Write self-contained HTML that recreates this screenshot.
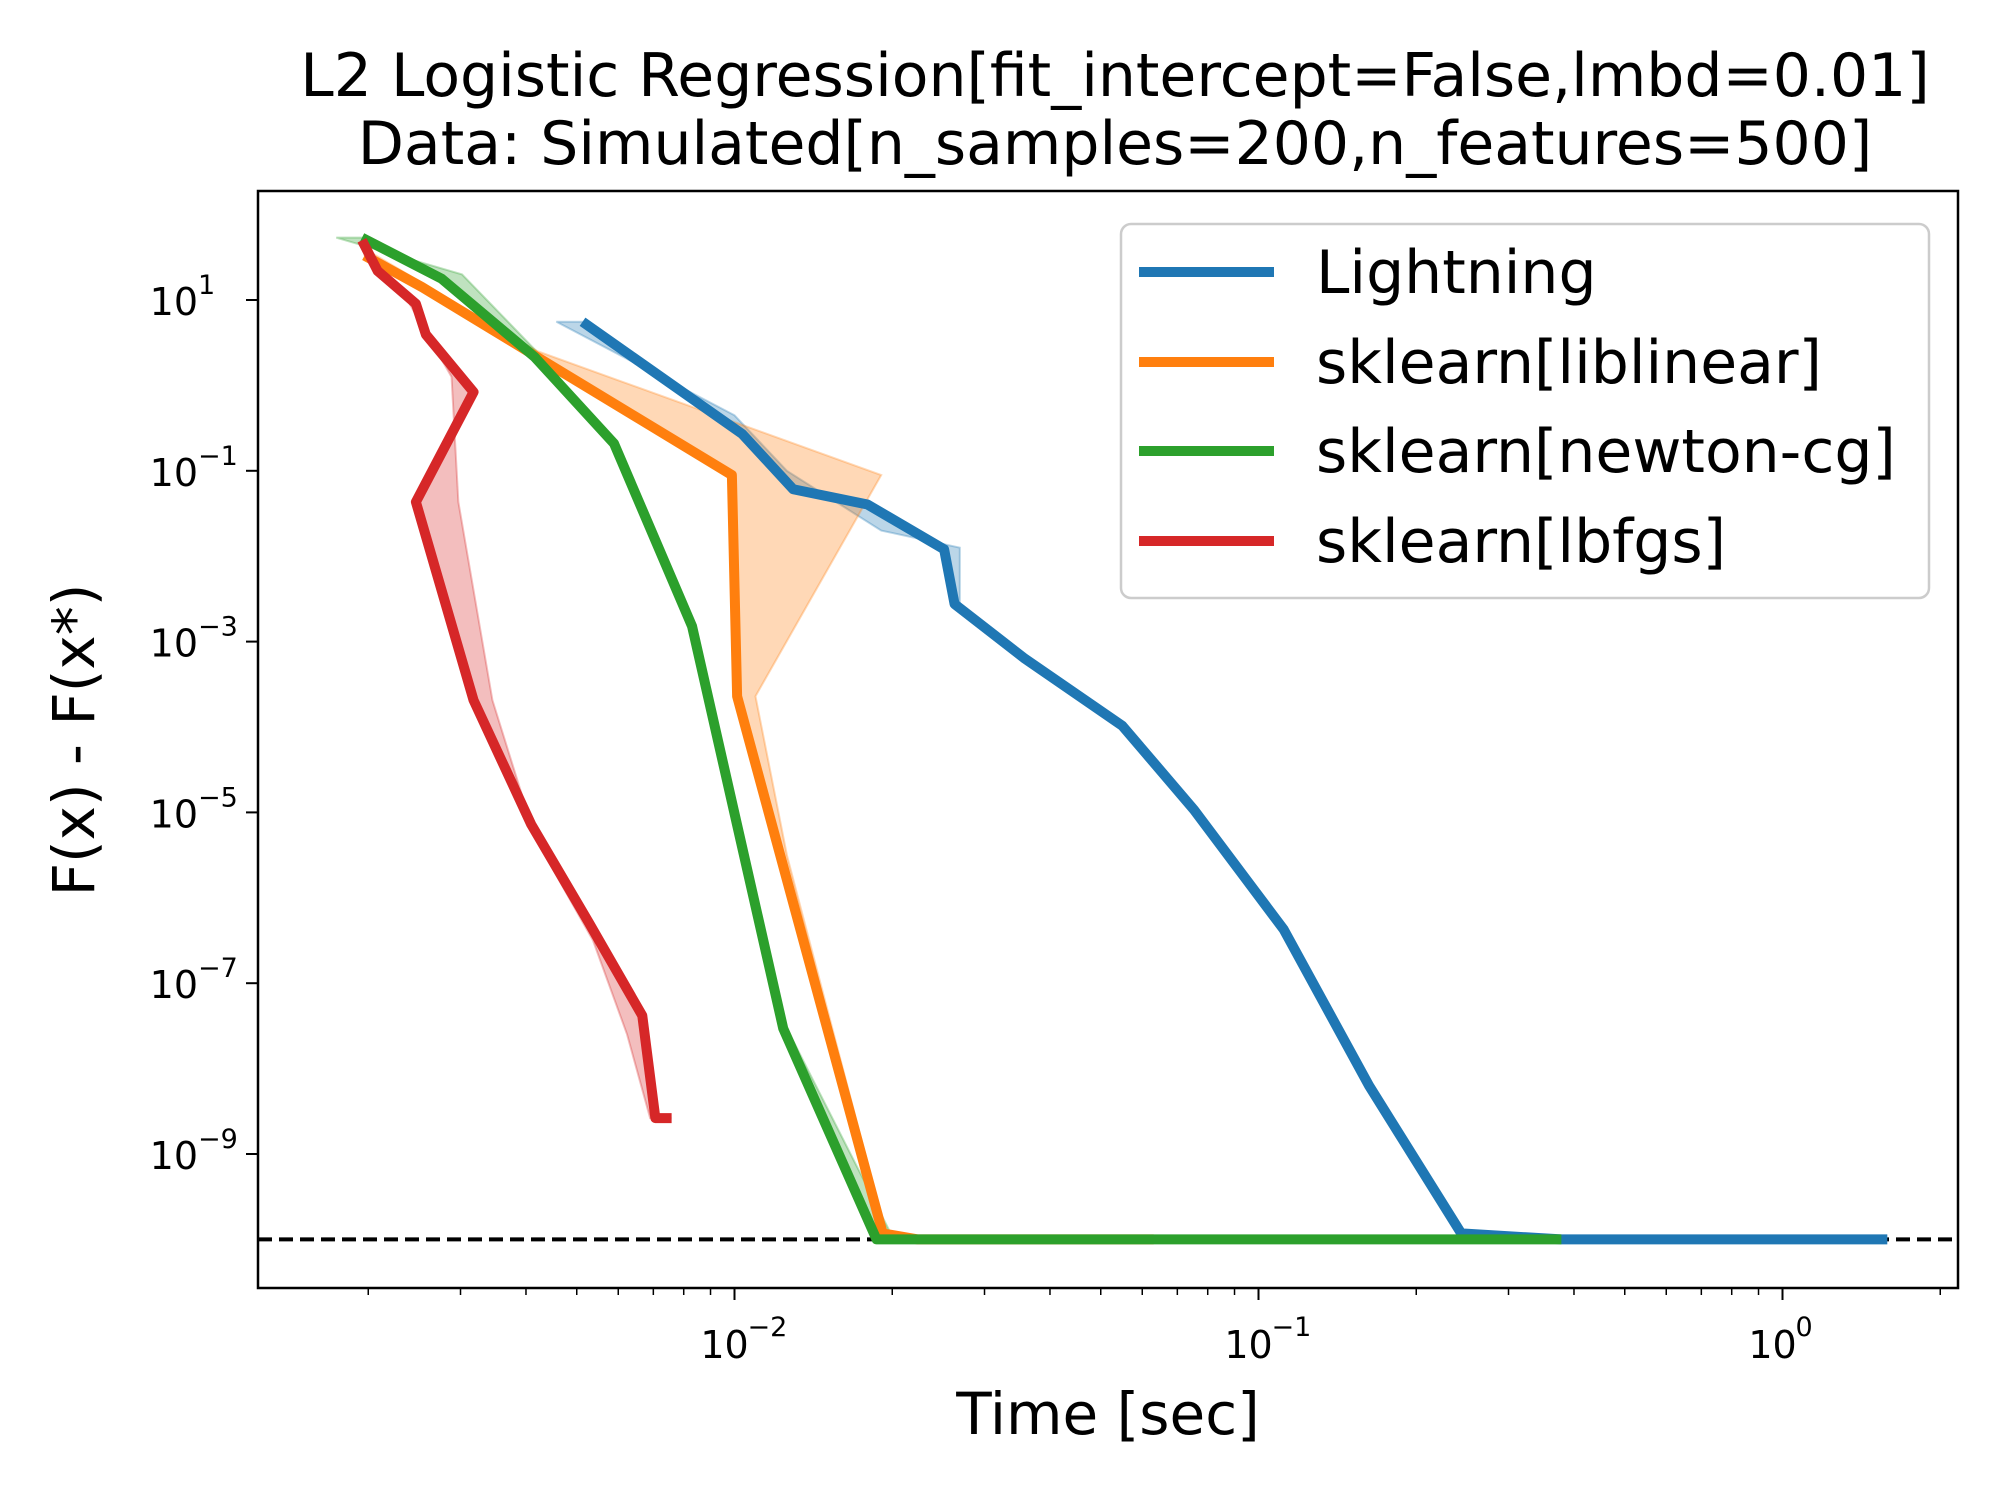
<!DOCTYPE html>
<html><head><meta charset="utf-8"><style>
html,body{margin:0;padding:0;background:#fff;}
svg text{font-family:"DejaVu Sans","Liberation Sans",sans-serif;}
</style></head><body>
<svg id="chart" xmlns="http://www.w3.org/2000/svg" width="2000" height="1500" viewBox="0 0 2000 1500">
<rect width="2000" height="1500" fill="#fff"/>
<text x="1115" y="96" font-size="60" text-anchor="middle">L2 Logistic Regression[fit_intercept=False,lmbd=0.01]</text>
<text x="1115" y="164" font-size="60" text-anchor="middle">Data: Simulated[n_samples=200,n_features=500]</text>
<g id="plot"></g>
<text x="1108" y="1434" font-size="58" text-anchor="middle">Time [sec]</text>
<text transform="translate(94,740) rotate(-90)" font-size="58" text-anchor="middle">F(x) - F(x*)</text>
</svg>
<script>
// data in log10 units (time, suboptimality)
const seriesNames = ["Lightning","sklearn[liblinear]","sklearn[newton-cg]","sklearn[lbfgs]"];
const lightningX = [-2.29,-1.985,-1.888,-1.746,-1.6,-1.58,-1.448,-1.26,-1.123,-0.952,-0.789,-0.613,-0.422,0.2];
const lightningY = [0.745,-0.57,-1.216,-1.395,-1.92,-2.56,-3.19,-3.985,-4.97,-6.37,-8.2,-9.93,-10,-10];
const liblinearX = [-2.706,-2.596,-2.376,-2.005,-1.995,-1.717,-1.65,-1.2];
const liblinearY = [1.52,1.15,0.33,-1.05,-3.64,-9.93,-10,-10];
const newtonX = [-2.711,-2.559,-2.381,-2.23,-2.081,-1.907,-1.729,-0.422];
const newtonY = [1.73,1.25,0.33,-0.68,-2.82,-7.53,-10,-10];
const lbfgsX = [-2.711,-2.681,-2.608,-2.589,-2.498,-2.608,-2.498,-2.388,-2.278,-2.176,-2.151,-2.12];
const lbfgsY = [1.70,1.34,0.955,0.596,-0.078,-1.365,-3.686,-5.14,-6.29,-7.38,-8.58,-8.58];
// band edges (other side of shaded region)
const lightningBandX = [-2.34,-2.0,-1.9,-1.72,-1.57,-1.57];
const lightningBandY = [0.745,-0.35,-1.0,-1.7,-1.9,-2.56];
const liblinearBandX = [-2.706,-2.376,-1.72,-1.96,-1.9,-1.71];
const liblinearBandY = [1.6,0.4,-1.05,-3.64,-5.5,-9.95];
const newtonBandX = [-2.76,-2.52,-2.37,-2.23,-2.08,-1.90,-1.70];
const newtonBandY = [1.73,1.3,0.35,-0.68,-2.82,-7.53,-9.95];
const lbfgsBandX = [-2.62,-2.54,-2.527,-2.462,-2.38,-2.27,-2.205,-2.161];
const lbfgsBandY = [0.955,0.1,-1.365,-3.686,-5.3,-6.5,-7.6,-8.58];
const xTickVals = [-2,-1,0];
const xTickLabels = ["2","1","0"];
const yTickVals = [1,-1,-3,-5,-7,-9];
const yTickLabels = ["1","\u22121","\u22123","\u22125","\u22127","\u22129"];
const optimum = -10;

const L=258,R=1958,T=191,B=1288;
const sx = v => 734.5 + (v+2)*524;
const sy = v => 300 - (v-1)*85.4;
const NS="http://www.w3.org/2000/svg";
const g=document.getElementById('plot');
function mk(tag,attrs,parent){const e=document.createElementNS(NS,tag);for(const k in attrs)e.setAttribute(k,attrs[k]);(parent||g).appendChild(e);return e;}
const colors=["#1f77b4","#ff7f0e","#2ca02c","#d62728"];

function band(xs,ys,bx,by,c,name){
  const pts=xs.map((x,i)=>sx(x)+','+sy(ys[i]));
  const bpts=bx.map((x,i)=>sx(x)+','+sy(by[i])).reverse();
  const p=mk('polygon',{points:pts.concat(bpts).join(' '),fill:c,'fill-opacity':0.3,stroke:c,'stroke-opacity':0.3,'stroke-width':2});
  
  
}
function line(xs,ys,c,name){
  const p=mk('polyline',{points:xs.map((x,i)=>sx(x)+','+sy(ys[i])).join(' '),fill:'none',stroke:c,'stroke-width':10,'stroke-linejoin':'round'});
  
  
}
const dl=mk('line',{x1:L,x2:R,y1:sy(optimum),y2:sy(optimum),stroke:'#000','stroke-width':4,'stroke-dasharray':'14,7'});



band(lightningX.slice(0,6),lightningY.slice(0,6),lightningBandX,lightningBandY,colors[0],'lightning-band');
band(liblinearX.slice(0,6),liblinearY.slice(0,6),liblinearBandX,liblinearBandY,colors[1],'liblinear-band');
band(newtonX.slice(0,7),newtonY.slice(0,7),newtonBandX,newtonBandY,colors[2],'newton-band');
band(lbfgsX.slice(2,12),lbfgsY.slice(2,12),lbfgsBandX,lbfgsBandY,colors[3],'lbfgs-band');
line(lightningX,lightningY,colors[0],'lightning-line');
line(liblinearX,liblinearY,colors[1],'liblinear-line');
line(newtonX,newtonY,colors[2],'newton-cg-line');
line(lbfgsX,lbfgsY,colors[3],'lbfgs-line');

const fr=mk('rect',{x:L,y:T,width:R-L,height:B-T,fill:'none',stroke:'#000','stroke-width':2.5});



xTickVals.forEach((v,i)=>{
  mk('line',{x1:sx(v),x2:sx(v),y1:B,y2:B+12,stroke:'#000','stroke-width':2});
  const t=mk('text',{x:sx(v)-10,y:B+70,'font-size':38,'text-anchor':'middle'});
  
  
  t.textContent='10';
  const s=mk('text',{x:sx(v)+13,y:B+48,'font-size':27});
  s.textContent=(xTickLabels[i]==="0"?"0":"\u2212"+xTickLabels[i]);
});
for(let d=-3;d<=0;d++){for(let k=2;k<=9;k++){const v=d+Math.log10(k);const x=sx(v);if(x<L||x>R)continue;mk('line',{x1:x,x2:x,y1:B,y2:B+7,stroke:'#000','stroke-width':1.5});}}
yTickVals.forEach((v,i)=>{
  mk('line',{x1:L-12,x2:L,y1:sy(v),y2:sy(v),stroke:'#000','stroke-width':2});
  const t=mk('text',{x:L-60,y:sy(v)+15,'font-size':38,'text-anchor':'end'});
  
  
  t.textContent='10';
  const s=mk('text',{x:L-60,y:sy(v)-6,'font-size':27});
  s.textContent=yTickLabels[i];
});

const lg=mk('g',{});


mk('rect',{x:1121,y:224,width:808,height:374,rx:10,fill:'#fff','fill-opacity':0.85,stroke:'#ccc','stroke-width':2.5},lg);
const ly=[272,362,451,541];
seriesNames.forEach((n,i)=>{
  const e=mk('g',{},lg);
  
  
  mk('line',{x1:1139,x2:1274,y1:ly[i],y2:ly[i],stroke:colors[i],'stroke-width':10},e);
  const t=mk('text',{x:1316,y:ly[i]+21,'font-size':60},e);
  t.textContent=n;
});
</script>
</body></html>
